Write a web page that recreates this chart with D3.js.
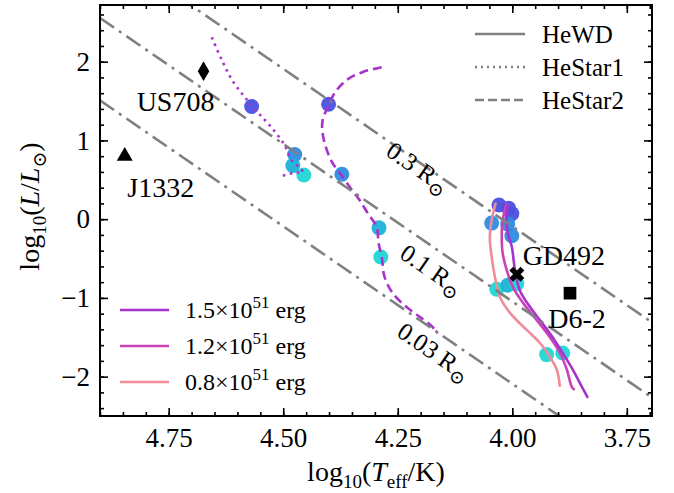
<!DOCTYPE html>
<html>
<head>
<meta charset="utf-8">
<script src="https://cdn.jsdelivr.net/npm/d3@7"></script>
<style>
  body { margin: 0; background: #fff; }
  text { font-family: "Liberation Serif", "DejaVu Serif", serif; fill: #000; }
</style>
</head>
<body>
<div id="viz"></div>
<script>
// ---- data (log10 Teff, log10 L/Lsun) ----
const hewd08 = [[4.036,0.21],[4.045,-0.01],[4.049,-0.23],[4.045,-0.48],[4.038,-0.73],[4.027,-0.99],[4.005,-1.19],[3.968,-1.41],[3.940,-1.57],[3.918,-1.75],[3.903,-1.91],[3.896,-2.13]]
const hewd12 = [[4.012,0.21],[4.021,-0.01],[4.023,-0.23],[4.021,-0.43],[4.012,-0.65],[3.999,-0.86],[3.977,-1.06],[3.947,-1.28],[3.918,-1.50],[3.896,-1.70],[3.881,-1.91],[3.870,-2.13],[3.864,-2.17]]
const hewd15 = [[4.010,0.18],[4.012,-0.01],[4.010,-0.18],[4.001,-0.35],[3.995,-0.61],[3.984,-0.90],[3.962,-1.11],[3.940,-1.28],[3.912,-1.50],[3.890,-1.70],[3.868,-1.91],[3.848,-2.13],[3.835,-2.27]]
const heStar1 = [[4.656,2.31],[4.634,2.02],[4.612,1.77],[4.584,1.55],[4.556,1.36],[4.525,1.16],[4.497,0.94],[4.482,0.75],[4.464,0.65],[4.457,0.60],[4.475,0.59],[4.501,0.55]]
const heStar2 = [[4.285,1.93],[4.326,1.87],[4.361,1.77],[4.388,1.60],[4.403,1.42],[4.414,1.26],[4.414,1.09],[4.405,0.88],[4.392,0.71],[4.377,0.59],[4.350,0.37],[4.333,0.24],[4.316,0.08],[4.296,-0.10],[4.292,-0.30],[4.285,-0.48],[4.279,-0.73],[4.261,-0.94],[4.230,-1.12],[4.202,-1.24],[4.174,-1.37],[4.163,-1.45]]

// snapshot markers: [logT, logL, time index 0..3]
const snapshots = [
  [4.569,1.43,0],[4.475,0.82,1],[4.479,0.68,2],[4.455,0.56,3],
  [4.401,1.46,0],[4.372,0.57,1],[4.291,-0.11,2],[4.287,-0.48,3],
  [4.029,0.18,0],[4.008,0.14,0],[4.001,0.07,0],
  [4.045,-0.05,1],[4.010,-0.06,1],[4.001,-0.21,1],
  [4.034,-0.89,3],[4.010,-0.84,2],[3.990,-0.82,3],
  [3.925,-1.72,3],[3.890,-1.70,3]
]

// constant radius lines: label, [logT, logL] at each end
const radiusLabels = ["0.3", "0.1", "0.03"]
const radiusLines = [
  [[4.90, 3.509], [3.695, -1.311]],
  [[4.90, 2.555], [3.695, -2.265]],
  [[4.90, 1.509], [3.695, -3.311]]
]
const radiusLabelPos = [[4.205, 0.66], [4.175, -0.64], [4.170, -1.68]]

// observed objects
const objNames = ["US708", "J1332", "GD492", "D6-2"]
const objT = [4.674, 4.846, 3.990, 3.874]
const objL = [1.88, 0.80, -0.70, -0.94]
const objShape = ["diamond", "triangle", "x", "square"]

const energyLabels = ["1.5", "1.2", "0.8"]
const typeLabels = ["HeWD", "HeStar1", "HeStar2"]

const xTicks = [4.75, 4.50, 4.25, 4.00, 3.75]
const yTicks = [-2, -1, 0, 1, 2]

// ---- layout ----
const fullW = 674, fullH = 493
const margin = { top: 5, right: 22, bottom: 77, left: 100 }
const width = fullW - margin.left - margin.right
const height = fullH - margin.top - margin.bottom

const colors = {
  e15: "#a733cc",
  e12: "#cc42b6",
  e08: "#f08c9a",
  grey: "#808080",
  snap: ["#4b50e0", "#2d8ce0", "#1cb2d6", "#1fd6d6"]
}

const svg = d3.select("#viz").append("svg")
  .attr("width", fullW).attr("height", fullH)

const g = svg.append("g").attr("transform", `translate(${margin.left},${margin.top})`)

const x = d3.scaleLinear().domain([4.90, 3.695]).range([0, width])
const y = d3.scaleLinear().domain([-2.5, 2.72]).range([height, 0])

g.append("clipPath").attr("id", "clip").append("rect").attr("width", width).attr("height", height)
const plot = g.append("g").attr("clip-path", "url(#clip)")

const line = d3.line().x(d => x(d[0])).y(d => y(d[1])).curve(d3.curveCatmullRom)

// snapshot circles
plot.selectAll("circle.snap").data(snapshots).join("circle")
  .attr("class", "snap")
  .attr("cx", d => x(d[0])).attr("cy", d => y(d[1])).attr("r", 7.5)
  .attr("fill", d => colors.snap[d[2]]).attr("opacity", 0.95)

// evolution tracks
const tracks = [
  { data: hewd08, color: colors.e08, dash: null },
  { data: hewd12, color: colors.e12, dash: null },
  { data: hewd15, color: colors.e15, dash: null },
  { data: heStar1, color: colors.e15, dash: "2.5,4.5" },
  { data: heStar2, color: colors.e15, dash: "9,5" }
]
tracks.forEach(t => {
  plot.append("path").attr("d", line(t.data))
    .attr("fill", "none").attr("stroke", t.color).attr("stroke-width", 2.6)
    .attr("stroke-dasharray", t.dash)
})

// constant radius lines
radiusLines.forEach(l => {
  plot.append("line")
    .attr("x1", x(l[0][0])).attr("y1", y(l[0][1]))
    .attr("x2", x(l[1][0])).attr("y2", y(l[1][1]))
    .attr("stroke", colors.grey).attr("stroke-width", 2.6)
    .attr("stroke-dasharray", "17,6,3,6")
})
const l0 = radiusLines[0]
const angle = Math.atan2(y(l0[1][1]) - y(l0[0][1]), x(l0[1][0]) - x(l0[0][0])) * 180 / Math.PI
radiusLabels.forEach((lab, i) => {
  const p = radiusLabelPos[i]
  const t = g.append("text")
    .attr("transform", `translate(${x(p[0])},${y(p[1])}) rotate(${angle})`)
    .attr("text-anchor", "middle").attr("dy", "0.35em")
    .style("font-size", "25px")
  t.append("tspan").text(lab + " R")
  t.append("tspan").attr("dy", 6).style("font-size", "19px").text("⊙")
})

// observed objects
const shapes = {
  diamond: d3.symbol(d3.symbolDiamond, 115),
  triangle: d3.symbol(d3.symbolTriangle, 110),
  square: d3.symbol(d3.symbolSquare, 160),
  x: d3.symbol(d3.symbolCross, 140)
}
objNames.forEach((n, i) => {
  g.append("path").attr("d", shapes[objShape[i]]())
    .attr("transform", `translate(${x(objT[i])},${y(objL[i])})` + (objShape[i] === "x" ? " rotate(45)" : ""))
    .attr("fill", "#000")
})
const objLabelOffset = [[-28, 40], [36, 41], [47, -9], [7, 35]]
objNames.forEach((n, i) => {
  g.append("text")
    .attr("x", x(objT[i]) + objLabelOffset[i][0]).attr("y", y(objL[i]) + objLabelOffset[i][1])
    .attr("text-anchor", "middle").style("font-size", "28px").text(n)
})

// axes
const xAxis = g.append("g").attr("transform", `translate(0,${height})`)
  .call(d3.axisBottom(x).tickValues(xTicks).tickFormat(d3.format(".2f")).tickSize(-8).tickPadding(12))
const xMinor = g.append("g").attr("transform", `translate(0,${height})`)
  .call(d3.axisBottom(x).tickValues(d3.range(3.70, 4.90, 0.05)).tickFormat("").tickSize(-4))
const xTop = g.append("g")
  .call(d3.axisTop(x).tickValues(xTicks).tickFormat("").tickSize(-8))
const xTopMinor = g.append("g")
  .call(d3.axisTop(x).tickValues(d3.range(3.70, 4.90, 0.05)).tickFormat("").tickSize(-4))
const yAxis = g.append("g")
  .call(d3.axisLeft(y).tickValues(yTicks).tickFormat(d3.format("d")).tickSize(-8).tickPadding(10))
const yMinor = g.append("g")
  .call(d3.axisLeft(y).tickValues(d3.range(-2.4, 2.7, 0.2)).tickFormat("").tickSize(-4))
const yRight = g.append("g").attr("transform", `translate(${width},0)`)
  .call(d3.axisRight(y).tickValues(yTicks).tickFormat("").tickSize(-8))
const yRightMinor = g.append("g").attr("transform", `translate(${width},0)`)
  .call(d3.axisRight(y).tickValues(d3.range(-2.4, 2.7, 0.2)).tickFormat("").tickSize(-4))

g.selectAll(".domain").remove()
g.selectAll(".tick line").attr("stroke", "#000").attr("stroke-width", 1.6)
g.selectAll(".tick text").style("font-size", "27px").style("font-family", "Liberation Serif")

g.append("rect").attr("width", width).attr("height", height)
  .attr("fill", "none").attr("stroke", "#000").attr("stroke-width", 2)

// axis titles
const xt = svg.append("text").attr("x", margin.left + width / 2).attr("y", 481)
  .attr("text-anchor", "middle").style("font-size", "28px")
xt.append("tspan").text("log")
xt.append("tspan").attr("dy", 7).style("font-size", "19px").text("10")
xt.append("tspan").attr("dy", -7).text("(")
xt.append("tspan").style("font-style", "italic").text("T")
xt.append("tspan").attr("dy", 7).style("font-size", "19px").text("eff")
xt.append("tspan").attr("dy", -7).text("/K)")

const yt = svg.append("text")
  .attr("transform", `translate(39,${margin.top + height / 2 - 4}) rotate(-90)`)
  .attr("text-anchor", "middle").style("font-size", "28px")
yt.append("tspan").text("log")
yt.append("tspan").attr("dy", 7).style("font-size", "19px").text("10")
yt.append("tspan").attr("dy", -7).text("(")
yt.append("tspan").style("font-style", "italic").text("L")
yt.append("tspan").text("/")
yt.append("tspan").style("font-style", "italic").text("L")
yt.append("tspan").attr("dy", 7).style("font-size", "19px").text("⊙")
yt.append("tspan").attr("dy", -7).text(")")

// legend: track types
const typeDash = [null, "2,4", "9,4"]
typeLabels.forEach((lab, i) => {
  const ly = 34 + i * 33 - margin.top
  g.append("line").attr("x1", 375).attr("x2", 425).attr("y1", ly).attr("y2", ly)
    .attr("stroke", colors.grey).attr("stroke-width", 2.6).attr("stroke-dasharray", typeDash[i])
  g.append("text").attr("x", 442).attr("y", ly).attr("dy", "0.35em")
    .style("font-size", "25px").text(lab)
})

// legend: explosion energies
const energyColors = [colors.e15, colors.e12, colors.e08]
energyLabels.forEach((lab, i) => {
  const ly = 310 + i * 36 - margin.top
  g.append("line").attr("x1", 20).attr("x2", 69).attr("y1", ly).attr("y2", ly)
    .attr("stroke", energyColors[i]).attr("stroke-width", 2.6)
  const t = g.append("text").attr("x", 85).attr("y", ly).attr("dy", "0.35em")
    .style("font-size", "24px")
  t.append("tspan").text(lab + "×10")
  t.append("tspan").attr("dy", -10).style("font-size", "17px").text("51")
  t.append("tspan").attr("dy", 10).text(" erg")
})
</script>
</body>
</html>
